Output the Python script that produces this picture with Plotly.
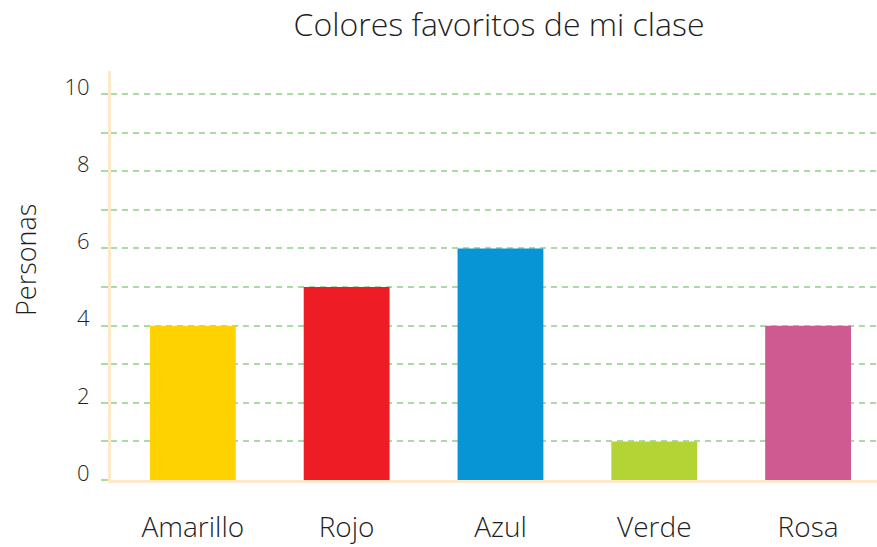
import plotly.graph_objects as go

# Favourite colours of the class
categorias = ["Amarillo", "Rojo", "Azul", "Verde", "Rosa"]
personas = [4, 5, 6, 1, 4]
colores = ["#FDD200", "#EE1C25", "#0795D6", "#B4D334", "#CF5A91"]
y_ticks = [0, 2, 4, 6, 8, 10]

FONT = "Open Sans"
TEXT = "#1f1f1f"
GRID = "#A9DCA3"
AXIS = "#FDE9C9"

fig = go.Figure(
    go.Bar(
        x=categorias,
        y=personas,
        marker=dict(color=colores, line=dict(width=0)),
        width=0.558,
        hoverinfo="x+y",
    )
)

fig.update_layout(
    width=877,
    height=547,
    margin=dict(l=111, r=0, t=71, b=67),
    paper_bgcolor="white",
    plot_bgcolor="white",
    showlegend=False,
    title=dict(
        text="Colores favoritos de mi clase",
        x=499 / 877,
        xanchor="center",
        y=1 - 25 / 547,
        yanchor="middle",
        font=dict(family=FONT, size=32, color=TEXT, weight=300),
    ),
    font=dict(family=FONT, color=TEXT, weight=300),
    annotations=[
        dict(
            text="Personas",
            xref="paper",
            yref="paper",
            x=-86 / 766,
            y=(480 - 260) / 409,
            xanchor="center",
            yanchor="middle",
            textangle=-90,
            showarrow=False,
            font=dict(family=FONT, size=27, color=TEXT, weight=300),
        )
    ],
)

fig.update_xaxes(
    type="category",
    range=[-0.532, 4.448],
    showgrid=False,
    showline=True,
    linecolor=AXIS,
    linewidth=3,
    ticks="",
    tickfont=dict(family=FONT, size=28, color=TEXT, weight=300),
    ticklabelstandoff=20,
    zeroline=False,
)

fig.update_yaxes(
    range=[0, 10.6],
    tickmode="array",
    tickvals=y_ticks,
    ticktext=[str(v) for v in y_ticks],
    showgrid=True,
    gridcolor=GRID,
    griddash="6px,5px",
    gridwidth=1.5,
    minor=dict(
        dtick=1,
        showgrid=True,
        gridcolor=GRID,
        griddash="6px,5px",
        gridwidth=1.5,
        ticks="outside",
        ticklen=7,
        tickwidth=1.5,
        tickcolor=GRID,
    ),
    ticks="outside",
    ticklen=7,
    tickwidth=1.5,
    tickcolor=GRID,
    showline=True,
    linecolor=AXIS,
    linewidth=3,
    zeroline=False,
    tickfont=dict(family=FONT, size=22, color=TEXT, weight=300),
    ticklabelshift=-7,
    ticklabelstandoff=7,
)

fig.write_html("out.html")
